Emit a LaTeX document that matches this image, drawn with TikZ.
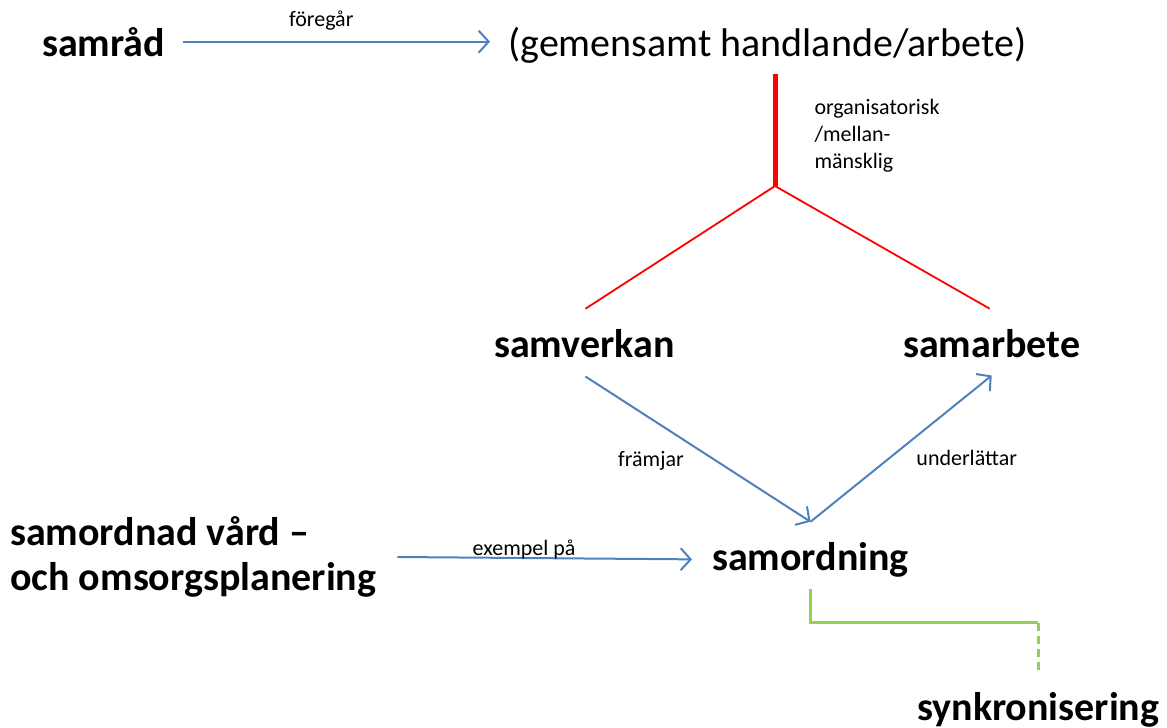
\documentclass[tikz,border=0pt]{standalone}
\usepackage{fontspec}
\setmainfont{Carlito}
\usetikzlibrary{arrows.meta}
\definecolor{officeblue}{HTML}{4F81BD}
\definecolor{officegreen}{HTML}{92D050}
\begin{document}
\begin{tikzpicture}
  [ x=1pt, y=-1pt,
    plain/.style={font=\fontsize{40}{48}\selectfont, inner sep=0pt, anchor=base west},
    term/.style={font=\fontsize{40}{45}\selectfont\bfseries, inner sep=0pt, anchor=base west},
    lbl/.style={font=\fontsize{22}{27}\selectfont, inner sep=0pt, text=black},
    link/.style={-{Straight Barb[length=10pt, width=22pt]}, line width=2pt, officeblue},
    redthick/.style={-, line width=5pt, red},
    redthin/.style={-, line width=1.8pt, red},
    sync/.style={-, line width=2.6pt, officegreen}
  ]

  \useasboundingbox (0,0) rectangle (1167,728);

  \node[term] (samrad) at (42,56) {samråd};
  \node[plain] (gemensamt) at (508,56) {(gemensamt handlande/arbete)};
  \node[term] (samverkan) at (494,357) {samverkan};
  \node[term] (samarbete) at (903,357) {samarbete};
  \node[term] (samordning) at (712,570) {samordning};
  \node[term] (synkronisering) at (917,720) {synkronisering};
  \node[term, align=left, anchor=west] (vardplan) at (10,557) {samordnad vård --\\och omsorgsplanering};
  \coordinate (fork) at (775,186);

  \draw [link] ([xshift=18pt]samrad.east) -- ([xshift=-18pt]samrad.east -| gemensamt.west)
    node[lbl, pos=0.45, anchor=base, yshift=15pt] {föregår};
  \draw [redthick] (fork |- 0,74) -- (fork)
    node[lbl, pos=0.2, anchor=north west, xshift=37pt, align=left] {organisatorisk\\/mellan-\\mänsklig};
  \draw [redthin] ([xshift=1pt, yshift=20pt]samverkan.north) -- (fork) -- ([xshift=-2pt, yshift=20pt]samarbete.north);
  \draw [link] ([xshift=1pt, yshift=-19pt]samverkan.south) -- ([yshift=20pt]samordning.north)
    node[lbl, pos=0.57, anchor=base east, xshift=-29pt, yshift=-7pt] {främjar};
  \draw [link] ([yshift=20pt]samordning.north) -- ([yshift=-18pt]samarbete.south)
    node[lbl, pos=0.43, anchor=base west, xshift=27pt, yshift=-7pt] {underlättar};
  \draw [link] ([xshift=21pt]vardplan.east) -- ([xshift=-20pt]samordning.west)
    node[lbl, pos=0.43, anchor=base, yshift=3pt] {exempel på};
  \draw [sync] ([yshift=-12pt]samordning.south) |- ([yshift=69pt]synkronisering.north);
  \draw [sync, dash pattern=on 8pt off 5pt] ([yshift=69pt]synkronisering.north) -- ([yshift=18pt]synkronisering.north);
\end{tikzpicture}
\end{document}
